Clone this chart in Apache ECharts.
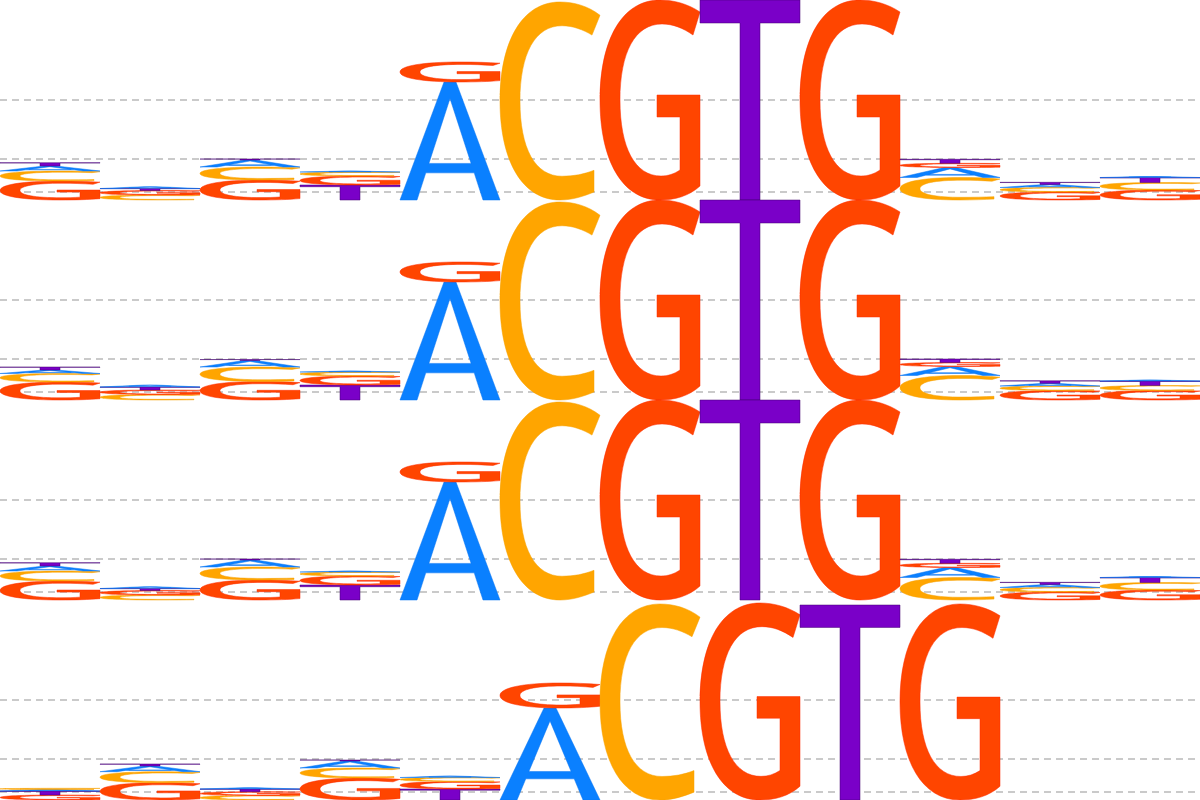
<!DOCTYPE html>
<html>
<head>
<meta charset="utf-8">
<script src="https://cdn.jsdelivr.net/npm/echarts@6/dist/echarts.min.js"></script>
<style>
html,body{margin:0;padding:0;background:#ffffff;}
#chart{width:1200px;height:800px;}
</style>
</head>
<body>
<div id="chart"></div>
<script>
// ---------- data (information content in bits, per position) ----------
const bases = ['A', 'C', 'G', 'T'];
const positions = [0, 1, 2, 3, 4, 5, 6, 7, 8, 9, 10, 11];
const gridLineValues = [1.0, 0.41, 0.083];

const row1A = [0.05, 0.018, 0.07, 0.01, 1.18, 0, 0, 0, 0, 0.10, 0.03, 0.01];
const row1C = [0.10, 0.05, 0.13, 0.04, 0, 1.98, 0, 0, 0, 0.225, 0.045, 0.075];
const row1G = [0.19, 0.045, 0.20, 0.09, 0.20, 0, 2.0, 0, 2.0, 0.042, 0.08, 0.10];
const row1T = [0.033, 0.02, 0.01, 0.15, 0, 0, 0, 2.0, 0, 0.04, 0.022, 0.05];

const row2A = [0.035, 0.02, 0.065, 0.01, 1.18, 0, 0, 0, 0, 0.09, 0.027, 0.01];
const row2C = [0.085, 0.055, 0.145, 0.04, 0, 1.98, 0, 0, 0, 0.245, 0.045, 0.05];
const row2G = [0.18, 0.045, 0.185, 0.09, 0.20, 0, 2.0, 0, 2.0, 0.04, 0.095, 0.095];
const row2T = [0.03, 0.03, 0.01, 0.15, 0, 0, 0, 2.0, 0, 0.035, 0.025, 0.045];

const row3A = [0.05, 0.018, 0.07, 0.01, 1.18, 0, 0, 0, 0, 0.10, 0.03, 0.01];
const row3C = [0.10, 0.05, 0.13, 0.04, 0, 1.98, 0, 0, 0, 0.225, 0.045, 0.075];
const row3G = [0.19, 0.045, 0.20, 0.09, 0.20, 0, 2.0, 0, 2.0, 0.042, 0.08, 0.10];
const row3T = [0.033, 0.02, 0.01, 0.15, 0, 0, 0, 2.0, 0, 0.04, 0.022, 0.05];

const row4A = [0.015, 0.057, 0.013, 0.07, 0.015, 0.92, 0, 0, 0, 0, 0, 0];
const row4C = [0.012, 0.11, 0.045, 0.10, 0.04, 0, 1.96, 0, 0, 0, 0, 0];
const row4G = [0.05, 0.173, 0.038, 0.22, 0.075, 0.25, 0, 1.97, 0, 1.96, 0, 0];
const row4T = [0.04, 0.02, 0.027, 0.01, 0.11, 0, 0, 0, 1.95, 0, 0, 0];

const rows = [
  [row1A, row1C, row1G, row1T],
  [row2A, row2C, row2G, row2T],
  [row3A, row3C, row3G, row3T],
  [row4A, row4C, row4G, row4T]
];

// ---------- styles ----------
const baseColors = { A: '#0a80ff', C: '#ffa500', G: '#ff4500', T: '#7a00c8' };
const baseStrokes = { A: '#0a74f0', C: '#f7a000', G: '#ff2a00', T: '#40006e' };
const glyphs = {
  A: 'M44,0 L56,0 L100,100 L83,100 L74.2,77 L25.8,77 L17,100 L0,100 Z M50,14 L28.9,69 L71.1,69 Z',
  C: 'M100,6.7 C88,2 74,0 60,0 C22,0 0,20 0,50 C0,80 22,100 60,100 C73,100 84,98 94,96 L94,85 C84,87 74,88 62,88 C35,88 20,74 20,50 C20,26 35,12 62,12 C73,12 83,14 92,16.7 Z',
  G: 'M100,6 C88,2 74,0 60,0 C22,0 0,20 0,50 C0,80 22,100 60,100 C75,100 89,98 100,93 L100,47.5 L57,47.5 L57,58.5 L80,58.5 L80,85 C74,87 68,88 61,88 C35,88 20,74 20,50 C20,26 35,12 62,12 C73,12 83,14 93,17.5 Z',
  T: 'M0,0 L100,0 L100,11.5 L60,11.5 L60,100 L40,100 L40,11.5 L0,11.5 Z'
};

// ---------- build stacked letter items ----------
function buildStack(rowArrays) {
  const items = [];
  positions.forEach(function (p) {
    const col = bases.map(function (b, bi) { return { b: bi, h: rowArrays[bi][p] }; })
      .filter(function (d) { return d.h > 0; })
      .sort(function (a, b) { return b.h - a.h; });
    let y0 = 0;
    col.forEach(function (d) {
      items.push([p, d.b, y0, y0 + d.h]);
      y0 += d.h;
    });
  });
  return items;
}

const grids = [], xAxes = [], yAxes = [], series = [];
rows.forEach(function (rowArrays, r) {
  grids.push({ left: 0, right: 0, top: r * 200, height: 200, containLabel: false });
  xAxes.push({ type: 'value', gridIndex: r, min: 0, max: 12, show: false });
  yAxes.push({ type: 'value', gridIndex: r, min: 0, max: 2, show: false });

  series.push({
    type: 'custom',
    xAxisIndex: r, yAxisIndex: r,
    z: 1, silent: true, clip: false,
    data: gridLineValues.map(function (v) { return [0, v]; }),
    renderItem: function (params, api) {
      const cs = params.coordSys;
      const pt = api.coord([0, api.value(1)]);
      const y = Math.round(pt[1]);
      return {
        type: 'line',
        shape: { x1: cs.x, y1: y, x2: cs.x + cs.width, y2: y },
        style: { stroke: '#b9b9b9', lineWidth: 1.5, lineDash: [7, 5] }
      };
    }
  });

  series.push({
    type: 'custom',
    xAxisIndex: r, yAxisIndex: r,
    z: 2, silent: true, clip: false,
    data: buildStack(rowArrays),
    renderItem: function (params, api) {
      const p = api.value(0);
      const b = bases[api.value(1)];
      const tl = api.coord([p, api.value(3)]);
      const br = api.coord([p + 1, api.value(2)]);
      const h = br[1] - tl[1];
      return {
        type: 'path',
        shape: {
          pathData: glyphs[b],
          x: tl[0], y: tl[1], width: br[0] - tl[0], height: Math.max(h, 0.01),
          layout: 'cover'
        },
        style: { fill: baseColors[b], stroke: baseStrokes[b], lineWidth: 0.5 }
      };
    }
  });
});

const chart = echarts.init(document.getElementById('chart'), null, { renderer: 'canvas' });
chart.setOption({
  animation: false,
  backgroundColor: '#ffffff',
  grid: grids,
  xAxis: xAxes,
  yAxis: yAxes,
  series: series
});
</script>
</body>
</html>
